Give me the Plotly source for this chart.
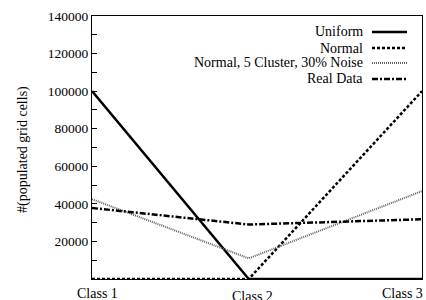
import plotly.graph_objects as go

# ---- data ----
class_labels = ["Class 1", "Class 2", "Class 3"]
class_x = [1, 1.95, 3]
uniform = [100000, 0, 0]
normal = [0, 0, 100000]
noise = [42500, 11000, 46800]
real_data = [37800, 29000, 31800]
series_names = ["Uniform", "Normal", "Normal, 5 Cluster, 30% Noise", "Real Data"]
y_ticks = [20000, 40000, 60000, 80000, 100000, 120000, 140000]

FONT = "Liberation Serif, Times New Roman, Times, DejaVu Serif, serif"
W, H = 426, 300
# plot area in page pixels: x 92..422, y 16..279
ML, MR, MT, MB = 92, 4, 16, 21
PW, PH = W - ML - MR, H - MT - MB

def px_x(x):
    return (x - ML) / PW

def px_y(y):
    return 1 - (y - MT) / PH

styles = [
    dict(color="black", width=2.5, dash="solid"),
    dict(color="black", width=2.5, dash="3px,2px"),
    dict(color="#606060", width=2, dash="1px,1px"),
    dict(color="black", width=2.5, dash="6px,2px,2px,2px"),
]
series = [uniform, normal, noise, real_data]

fig = go.Figure()
for name, vals, st in zip(series_names, series, styles):
    fig.add_trace(go.Scatter(x=class_x, y=vals, mode="lines", name=name,
                             line=st, showlegend=False, cliponaxis=False,
                             hoverinfo="skip"))

# manual legend (text right-aligned, sample to the right)
rows = [32, 48, 63, 79]
for name, st, ry in zip(series_names, styles, rows):
    fig.add_annotation(x=px_x(365), y=px_y(ry), xref="paper", yref="paper",
                       text=name, showarrow=False, xanchor="right", yanchor="middle",
                       font=dict(family=FONT, size=14, color="black"))
    fig.add_shape(type="line", xref="paper", yref="paper",
                  x0=px_x(372), x1=px_x(407), y0=px_y(ry), y1=px_y(ry),
                  line=st)

# x tick labels
label_pos = [(97, 293), (252, 296), (402, 293)]
for lab, (lx, ly) in zip(class_labels, label_pos):
    fig.add_annotation(x=px_x(lx), y=px_y(ly), xref="paper", yref="paper",
                       text=lab, showarrow=False, xanchor="center", yanchor="middle",
                       font=dict(family=FONT, size=14, color="black"))

# y title
fig.add_annotation(x=px_x(23), y=px_y(150), xref="paper", yref="paper",
                   text="#(populated grid cells)", showarrow=False, textangle=-90,
                   xanchor="center", yanchor="middle",
                   font=dict(family=FONT, size=14, color="black"))

fig.update_layout(
    width=W, height=H,
    margin=dict(l=ML, r=MR, t=MT, b=MB, autoexpand=False),
    paper_bgcolor="white", plot_bgcolor="white",
    font=dict(family=FONT, size=13, color="black"),
    hovermode=False,
    xaxis=dict(range=[1, 3], showticklabels=False, ticks="", showgrid=False,
               zeroline=False, showline=True, mirror=True, linecolor="black",
               linewidth=1, automargin=False),
    yaxis=dict(range=[0, 140000], tickvals=y_ticks, tickformat="d",
               ticks="inside", ticklen=5, automargin=False,
               tickcolor="black", showgrid=False, zeroline=False, showline=True,
               mirror=True, linecolor="black", linewidth=1,
               tickfont=dict(family=FONT, size=13.5, color="black"),
               minor=dict(dtick=10000, ticks="inside", ticklen=5, tickcolor="black")),
)

fig.write_html(
    "out.html",
    config={"displayModeBar": False, "staticPlot": True},
    post_script=(
        "document.body.style.margin='0';"
        "document.body.style.overflow='hidden';"
        "document.documentElement.style.overflow='hidden';"
    ),
)
